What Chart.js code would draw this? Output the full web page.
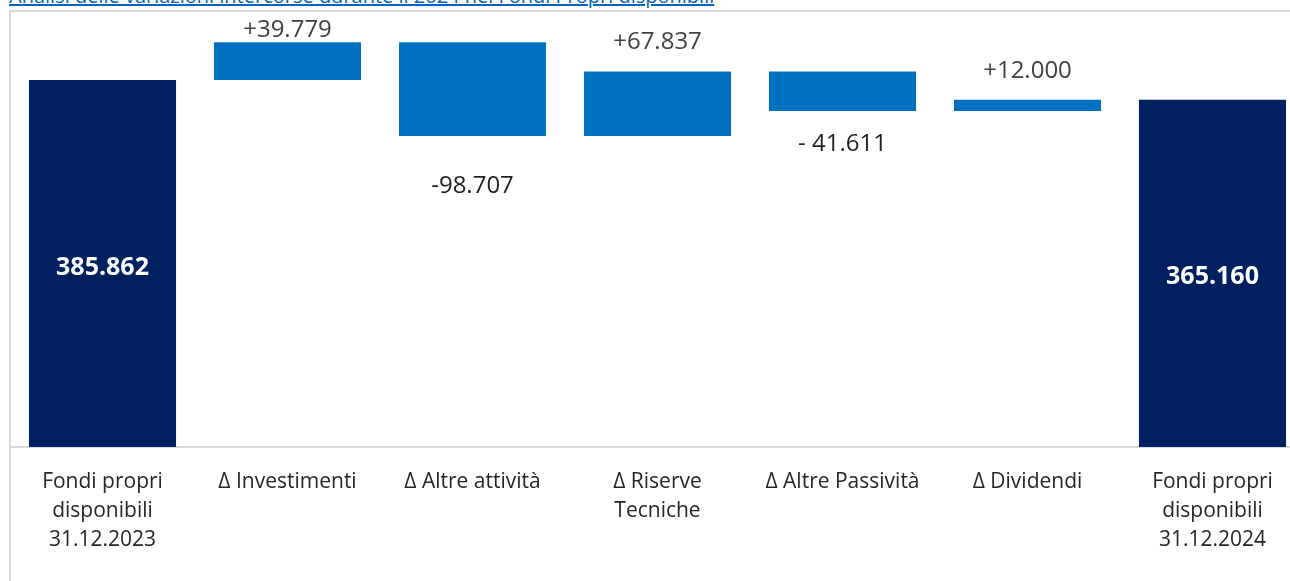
<!DOCTYPE html>
<html>
<head>
<meta charset="utf-8">
<script src="https://cdn.jsdelivr.net/npm/chart.js"></script>
<style>
  html, body { margin: 0; padding: 0; background: #fff; overflow: hidden; }
  body { width: 1290px; height: 581px; position: relative; }
  #title {
    position: absolute; left: 9px; top: -18px; white-space: nowrap;
    font-family: "Open Sans", sans-serif; font-size: 20px; color: #0563c1;
    text-decoration: underline;
  }
  #wrap { position: absolute; left: 0; top: 0; width: 1310px; height: 581px; }
</style>
</head>
<body>
<div id="title">Analisi delle variazioni intercorse durante il 2024 nei Fondi Propri disponibili</div>
<div id="wrap"><canvas id="waterfall"></canvas></div>
<script>
// Waterfall: Fondi propri disponibili (migliaia di euro)
const categories = [
    ['Fondi propri', 'disponibili', '31.12.2023'],
    'Δ Investimenti',
    'Δ Altre attività',
    ['Δ Riserve', 'Tecniche'],
    'Δ Altre Passività',
    'Δ Dividendi',
    ['Fondi propri', 'disponibili', '31.12.2024']
];
const openingValue = 385862;
const deltas = [39779, -98707, 67837, -41611, 12000];
const closingValue = 365160;
const valueLabels = ['385.862', '+39.779', '-98.707', '+67.837', '- 41.611', '+12.000', '365.160'];

// label distance from the bar edge (px), Excel labels were placed by hand
const labelOffsets = [0, 12, 50, 29, 33, 29, 0];

const NAVY = '#002060';
const BLUE = '#0070c0';

// build floating bars
const bars = [[0, openingValue]];
let running = openingValue;
deltas.forEach(d => {
    bars.push([running, running + d]);
    running += d;
});
bars.push([0, closingValue]);
const colors = bars.map((b, i) => (i === 0 || i === bars.length - 1) ? NAVY : BLUE);

const frame = {
    id: 'frame',
    beforeDraw(chart) {
        const ctx = chart.ctx;
        ctx.save();
        ctx.strokeStyle = '#d9d9d9';
        ctx.lineWidth = 2;
        ctx.beginPath();
        ctx.moveTo(10, chart.height);
        ctx.lineTo(10, 11);
        ctx.lineTo(chart.width, 11);
        ctx.stroke();
        ctx.restore();
    }
};

const valueLabelPlugin = {
    id: 'valueLabels',
    afterDatasetsDraw(chart) {
        const ctx = chart.ctx;
        const meta = chart.getDatasetMeta(0);
        ctx.save();
        ctx.textAlign = 'center';
        ctx.textBaseline = 'middle';
        meta.data.forEach((bar, i) => {
            const [a, b] = bars[i];
            const total = i === 0 || i === bars.length - 1;
            if (total) {
                ctx.fillStyle = '#ffffff';
                ctx.font = 'bold 25px "Open Sans"';
                ctx.fillText(valueLabels[i], bar.x, (bar.y + bar.base) / 2 + 4);
            } else {
                const up = b > a;
                const y = up ? Math.min(bar.y, bar.base) - labelOffsets[i]
                             : Math.max(bar.y, bar.base) + labelOffsets[i];
                ctx.fillStyle = up ? '#404040' : '#1f1f1f';
                ctx.font = '24px "Open Sans"';
                ctx.fillText(valueLabels[i], bar.x, y);
            }
        });
        ctx.restore();
    }
};

new Chart(document.getElementById('waterfall'), {
    type: 'bar',
    data: {
        labels: categories,
        datasets: [{
            data: bars,
            backgroundColor: colors,
            borderWidth: 0,
            categoryPercentage: 1,
            barPercentage: 0.795
        }]
    },
    options: {
        responsive: true,
        maintainAspectRatio: false,
        animation: false,
        layout: { padding: { left: 10, right: 5, top: 19, bottom: 0 } },
        plugins: {
            legend: { display: false },
            tooltip: { enabled: false }
        },
        scales: {
            x: {
                grid: { display: false },
                border: { display: true, color: '#d9d9d9', width: 2 },
                ticks: {
                    color: '#262626',
                    maxRotation: 0,
                    autoSkip: false,
                    padding: 13,
                    font: { family: '"Open Sans"', size: 21, lineHeight: 1.38 }
                },
                afterFit(scale) { scale.height = 134; }
            },
            y: {
                display: false,
                min: 0,
                max: 450000
            }
        }
    },
    plugins: [frame, valueLabelPlugin]
});
</script>
</body>
</html>
